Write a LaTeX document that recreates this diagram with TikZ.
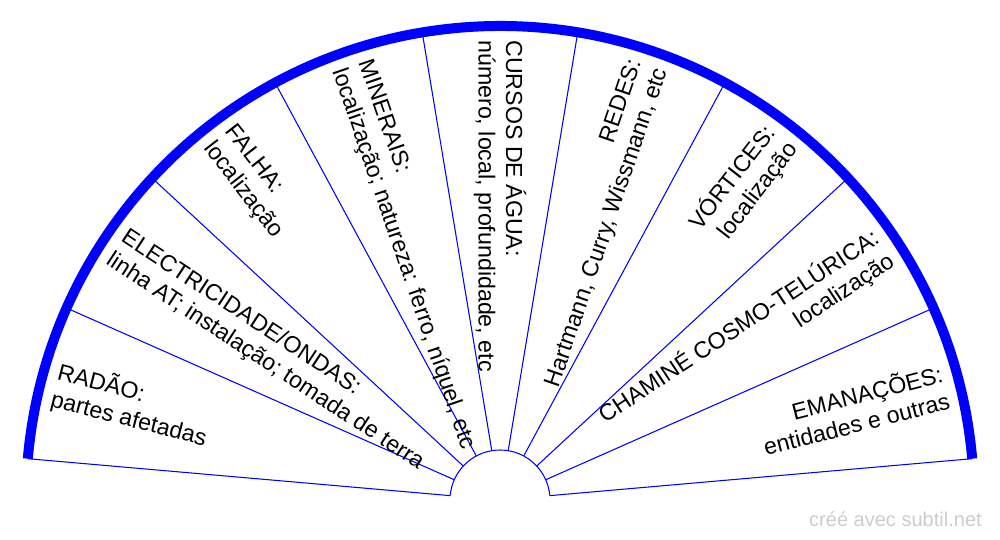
\documentclass[tikz,border=0pt]{standalone}
\usepackage{fontspec}
\setmainfont{Liberation Sans}
\begin{document}
\begin{tikzpicture}[
  rim/.style={blue,line width=0.2cm},
  spoke/.style={blue,line width=0.6pt},
  lbl/.style={inner sep=0pt,font=\fontsize{13.2}{15.6}\selectfont},
  lblleft/.style={lbl,anchor=west,align=left},
  lblright/.style={lbl,anchor=east,align=right}]
  \useasboundingbox (-10,-0.8) rectangle (10,10);
  \draw[rim] (5:9.48) arc[start angle=5,end angle=175,radius=9.48];
  \draw[spoke] (5:1) arc[start angle=5,end angle=175,radius=1];
  \draw[spoke] (5:1) -- (5:9.48);
  \draw[spoke] (23.889:1) -- (23.889:9.48);
  \draw[spoke] (42.778:1) -- (42.778:9.48);
  \draw[spoke] (61.667:1) -- (61.667:9.48);
  \draw[spoke] (80.556:1) -- (80.556:9.48);
  \draw[spoke] (99.444:1) -- (99.444:9.48);
  \draw[spoke] (118.333:1) -- (118.333:9.48);
  \draw[spoke] (137.222:1) -- (137.222:9.48);
  \draw[spoke] (156.111:1) -- (156.111:9.48);
  \draw[spoke] (175:1) -- (175:9.48);
  \node[lblleft,rotate=-14.444] (radao) at (165.556:9.2) {RADÃO:\\partes afetadas};
  \node[lblleft,rotate=-33.333] (electricidade) at (146.667:9.2) {ELECTRICIDADE/ONDAS:\\linha AT; instalação; tomada de terra};
  \node[lblleft,rotate=-52.222] (falha) at (127.778:9.2) {FALHA:\\localização};
  \node[lblleft,rotate=-71.111] (minerais) at (108.889:9.2) {MINERAIS:\\localização; natureza: ferro, níquel, etc};
  \node[lblleft,rotate=-90] (cursos) at (90:9.2) {CURSOS DE ÁGUA:\\número, local, profundidade, etc};
  \node[lblright,rotate=71.111] (redes) at (71.111:9.2) {REDES:\\Hartmann, Curry, Wissmann, etc};
  \node[lblright,rotate=52.222] (vortices) at (52.222:9.2) {VÓRTICES:\\localização};
  \node[lblright,rotate=33.333] (chamine) at (33.333:9.2) {CHAMINÉ COSMO-TELÚRICA:\\localização};
  \node[lblright,rotate=14.444] (emanacoes) at (14.444:9.2) {EMANAÇÕES:\\entidades e outras};
  \node[anchor=base east,text=black!20,font=\fontsize{11.4}{13}\selectfont] (credit) at (9.76,-0.54) {créé avec subtil.net};
\end{tikzpicture}
\end{document}
